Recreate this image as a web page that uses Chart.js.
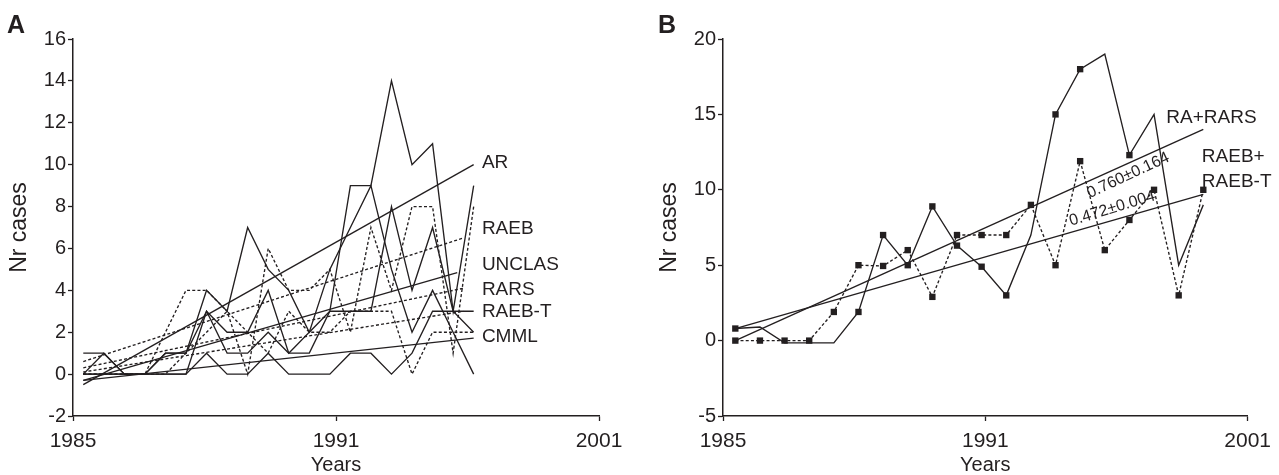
<!DOCTYPE html>
<html><head><meta charset="utf-8">
<script src="https://cdn.jsdelivr.net/npm/chart.js@4/dist/chart.umd.min.js"></script>
<style>
html,body{margin:0;padding:0;background:#fff;width:1279px;height:475px;overflow:hidden}
canvas{position:absolute;top:0}
#ca{left:0}
#cb{left:640px}
</style></head><body>
<canvas id="ca" width="640" height="475" style="width:640px;height:475px"></canvas>
<canvas id="cb" width="639" height="475" style="width:639px;height:475px"></canvas>
<script>
// ---------- DATA ----------
const xTickLabels = ['1985', '1991', '2001'];

// Panel A: yearly case counts per subtype (20 time slots)
const arA      = [0, 0, 0, 0, 1, 1, 4, 3, 7, 5, 4, 2, 3, 9, 9, 14, 10, 11, 3, 9];
const raebA    = [0, 0, 0, 0, 2, 4, 4, 3, 0, 6, 4, 4, 5, 2, 7, 4, 8, 8, 1, 8];
const unclasA  = [0, 1, 0, 0, 1, 1, 3, 1, 1, 2, 1, 2, 5, 7, 9, 5, 2, 4, 2, 0];
const rarsA    = [0, 0, 0, 0, 0, 1, 2, 3, 2, 1, 3, 2, 2, 3, 3, 3, 0, 2, 2, 2];
const raebtA   = [1, 1, 0, 0, 0, 0, 3, 2, 2, 4, 1, 1, 3, 3, 3, 8, 4, 7, 3, 2];
const cmmlA    = [0, 0, 0, 0, 0, 0, 1, 0, 0, 1, 0, 0, 0, 1, 1, 0, 1, 3, 3, 3];
// Panel A trend lines: [value at first slot, value at last slot]
const arTrendA     = [-0.5, 10];
const raebTrendA   = [0.6, 6.5];
const unclasTrendA = [-0.3, 4.85];
const rarsTrendA   = [0.3, 4.1];
const raebtTrendA  = [0.1, 3.0];
const cmmlTrendA   = [-0.3, 1.72];
const trendEndSlotA = [19, 18.5, 18.2, 18.5, 18.5, 19];
const seriesNamesA = ['AR', 'RAEB', 'UNCLAS', 'RARS', 'RAEB-T', 'CMML'];

// Panel B
const raRarsB      = [0.8, 0.9, -0.15, -0.15, -0.15, 1.9, 7, 5, 8.9, 6.3, 4.9, 3, 7, 15, 18, 19, 12.3, 15, 5, 9];
const raebRaebtB   = [0, 0, 0, 0, 1.9, 5, 4.95, 6, 2.9, 7, 7, 7, 9, 5, 11.9, 6, 8, 10, 3, 10];
const raRarsTrendB = [0, 14];
const raebTrendB   = [0.8, 9.7];
const slopeLabelsB = ['0.760\u00b10.164', '0.472\u00b10.004'];
const seriesNamesB = ['RA+RARS', 'RAEB+', 'RAEB-T'];

// ---------- STYLE ----------
const INK = '#231f20';
const FONT = '"Liberation Sans", Arial, Helvetica, sans-serif';
const DASH = [3, 2.2];
const markedSlotsB = [0, 5, 6, 7, 8, 9, 10, 11, 13, 14, 16];

function pts(values) { return values.map((v, i) => ({x: i + 0.5, y: v})); }
function trendPts(tr, endSlot) { return [{x: 0.5, y: tr[0]}, {x: endSlot + 0.5, y: tr[1]}]; }
function ds(data, dashed, extra) {
  return Object.assign({
    data, borderColor: INK, borderWidth: 1.35, borderDash: dashed ? DASH : [],
    pointRadius: 0, tension: 0, fill: false, clip: false
  }, extra || {});
}

function scalesFor(xMax, yMin, yMax, yStep, yAxisWidth, yTitlePad) {
  return {
    x: {
      type: 'linear', min: 0, max: xMax,
      afterBuildTicks: s => { s.ticks = [0, xMax / 2, xMax].map(v => ({value: v})); },
      afterFit: s => { s.height = 59; },
      ticks: {autoSkip: false, maxRotation: 0, padding: 8, color: INK,
              font: {family: FONT, size: 21}, callback: (v, i) => xTickLabels[i]},
      grid: {display: true, drawOnChartArea: false, drawTicks: true, tickLength: 5, tickWidth: 1.3, tickColor: INK},
      border: {display: true, color: INK, width: 1.5},
      title: {display: true, text: 'Years', color: INK, font: {family: FONT, size: 20, lineHeight: 1}, padding: {top: 0, bottom: 0}}
    },
    y: {
      min: yMin, max: yMax,
      afterBuildTicks: s => { const t = []; for (let v = yMin; v <= yMax + 1e-9; v += yStep) t.push({value: v}); s.ticks = t; },
      afterFit: s => { s.width = yAxisWidth; },
      ticks: {padding: 2, color: INK, font: {family: FONT, size: 20}},
      grid: {display: true, drawOnChartArea: false, drawTicks: true, tickLength: 5, tickWidth: 1.3, tickColor: INK},
      border: {display: true, color: INK, width: 1.5},
      title: {display: true, text: 'Nr cases', color: INK, font: {family: FONT, size: 23, lineHeight: 1.2}, padding: {top: yTitlePad, bottom: 0}}
    }
  };
}

function textPlugin(id, letter, letterX, items) {
  return {
    id,
    afterDraw(chart) {
      const {ctx} = chart;
      const xs = chart.scales.x, ys = chart.scales.y;
      ctx.save();
      ctx.fillStyle = INK;
      ctx.font = 'bold 25px ' + FONT;
      ctx.textAlign = 'left'; ctx.textBaseline = 'alphabetic';
      ctx.fillText(letter, letterX, 33);
      items.forEach(it => {
        ctx.save();
        ctx.font = (it.size || 19) + 'px ' + FONT;
        ctx.textAlign = it.align || 'left';
        ctx.textBaseline = 'middle';
        ctx.translate(xs.getPixelForValue(it.x), ys.getPixelForValue(it.y));
        if (it.rot) ctx.rotate(it.rot * Math.PI / 180);
        ctx.fillText(it.text, 0, 0);
        ctx.restore();
      });
      ctx.restore();
    }
  };
}

const common = {
  responsive: false, animation: false, devicePixelRatio: 1,
  plugins: {legend: {display: false}, tooltip: {enabled: false}},
  elements: {line: {borderJoinStyle: 'miter'}}
};

// ---------- PANEL A ----------
const A_XMAX = 25.6;
const dataA = [arA, raebA, unclasA, rarsA, raebtA, cmmlA];
const dashedA = [false, true, false, true, false, false];
const trendsA = [arTrendA, raebTrendA, unclasTrendA, rarsTrendA, raebtTrendA, cmmlTrendA];
const trendDashedA = [false, true, false, true, true, false];
const labelYA = [10.1, 6.95, 5.2, 4.05, 2.96, 1.8];

new Chart(document.getElementById('ca'), {
  type: 'line',
  data: {datasets: [
    ...dataA.map((v, k) => ds(pts(v), dashedA[k])),
    ...trendsA.map((t, k) => ds(trendPts(t, trendEndSlotA[k]), trendDashedA[k]))
  ]},
  options: Object.assign({}, common, {
    layout: {padding: {top: 39, right: 41, left: 0, bottom: 0}},
    scales: scalesFor(A_XMAX, -2, 16, 2, 73, 6)
  }),
  plugins: [textPlugin('txtA', 'A', 7,
    seriesNamesA.map((n, k) => ({text: n, x: 19.9, y: labelYA[k]})))]
});

// ---------- PANEL B ----------
const B_XMAX = 21.3;
new Chart(document.getElementById('cb'), {
  type: 'line',
  data: {datasets: [
    ds(pts(raRarsB), false, {
      pointStyle: 'rect', pointBackgroundColor: INK, pointBorderWidth: 0,
      pointRadius: c => markedSlotsB.includes(c.dataIndex) ? 4.5 : 0
    }),
    ds(pts(raebRaebtB), true, {
      pointStyle: 'rect', pointBackgroundColor: INK, pointBorderWidth: 0, pointRadius: 4.5
    }),
    ds(trendPts(raRarsTrendB, 19), false),
    ds(trendPts(raebTrendB, 19), false)
  ]},
  options: Object.assign({}, common, {
    layout: {padding: {top: 39, right: 30, left: 0, bottom: 0}},
    scales: scalesFor(B_XMAX, -5, 20, 5, 83, 16)
  }),
  plugins: [textPlugin('txtB', 'B', 18, [
    {text: seriesNamesB[0], x: 18.0, y: 14.77},
    {text: seriesNamesB[1], x: 19.44, y: 12.22},
    {text: seriesNamesB[2], x: 19.44, y: 10.56},
    {text: slopeLabelsB[0], x: 16.45, y: 10.95, rot: -25, align: 'center', size: 16},
    {text: slopeLabelsB[1], x: 15.8, y: 8.75, rot: -17, align: 'center', size: 16}
  ])]
});
</script>
</body></html>
